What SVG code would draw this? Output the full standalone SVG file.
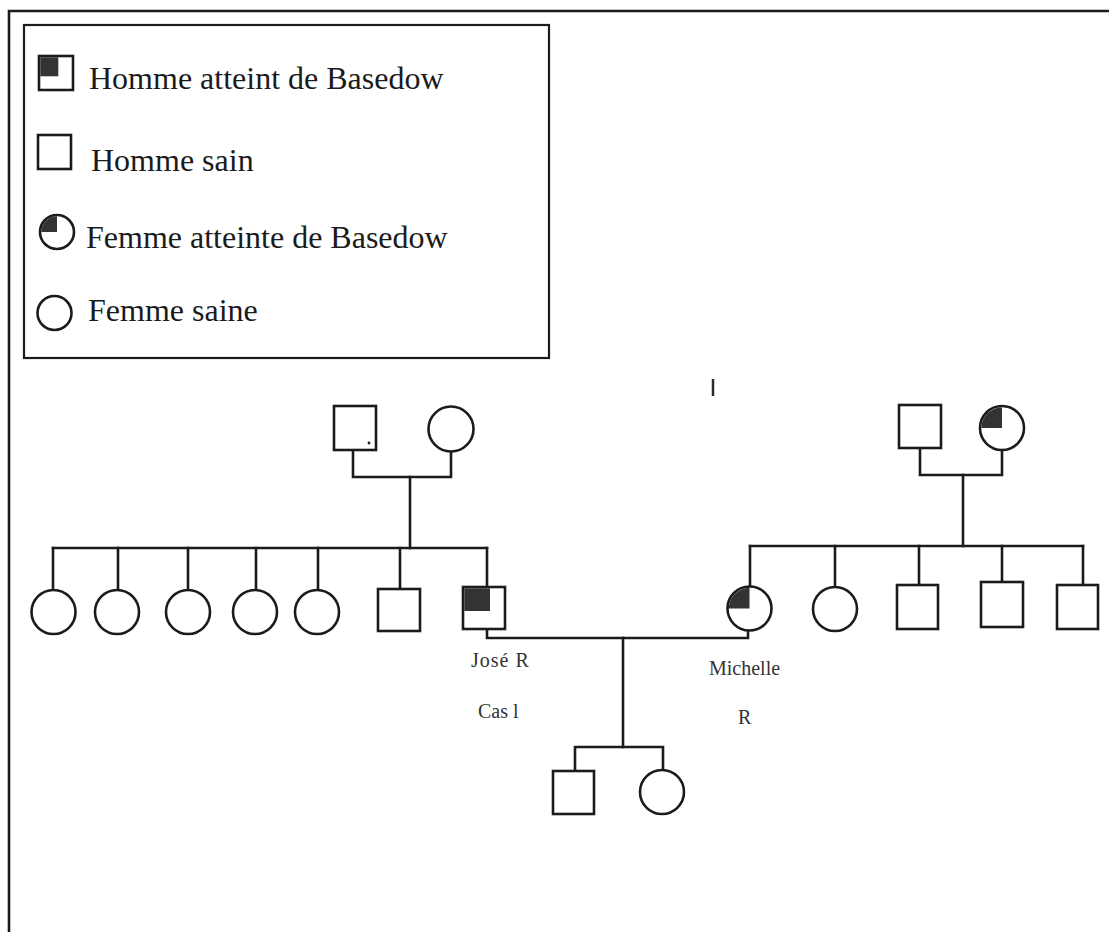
<svg xmlns="http://www.w3.org/2000/svg" width="1109" height="932" viewBox="0 0 1109 932">
  <style>
    .ln { fill: none; stroke: #1b1b1b; stroke-width: 2.6; stroke-linecap: square; }
    .sym { fill: #ffffff; stroke: #1b1b1b; stroke-width: 2.6; }
    .aff { fill: #333333; stroke: none; }
    .legend { font-family: "Liberation Serif", "Times New Roman", serif; font-size: 32px; fill: #1b1b1b; }
    .lbl { font-family: "Liberation Serif", "Times New Roman", serif; font-size: 20px; fill: #333333; }
  </style>

  <rect width="1109" height="932" fill="#ffffff"/>

  <!-- page frame (top and left edges) -->
  <path class="ln" d="M9,932 V11 H1109" stroke-width="2"/>

  <!-- legend -->
  <g id="legend">
    <rect x="24" y="25" width="525" height="333" fill="none" stroke="#1b1b1b" stroke-width="2.2"/>
    <g id="legend-male-affected">
      <rect class="sym" x="39" y="56" width="34" height="34"/>
      <rect class="aff" x="40.3" y="57.3" width="18" height="19"/>
      <text class="legend" x="89" y="89">Homme atteint de Basedow</text>
    </g>
    <g id="legend-male-healthy">
      <rect class="sym" x="38" y="135" width="33" height="34"/>
      <text class="legend" x="91" y="171">Homme sain</text>
    </g>
    <g id="legend-female-affected">
      <circle class="sym" cx="57" cy="232" r="17"/>
      <path class="aff" d="M57,232 H41.3 A15.7,15.7 0 0 1 57,216.3 Z"/>
      <text class="legend" x="86" y="248">Femme atteinte de Basedow</text>
    </g>
    <g id="legend-female-healthy">
      <circle class="sym" cx="54.5" cy="313" r="17"/>
      <text class="legend" x="88" y="321">Femme saine</text>
    </g>
  </g>

  <!-- connectors -->
  <g id="connectors" class="ln">
    <!-- left grandparents -->
    <path d="M353,450 V477 H451 V452"/>
    <path d="M410,477 V548"/>
    <path d="M53,548 H487"/>
    <path d="M53,548 V590 M118,548 V590 M188,548 V590 M256,548 V590 M318,548 V590 M400,548 V589 M487,548 V587"/>
    <!-- right grandparents -->
    <path d="M920,448 V475 H1002 V450"/>
    <path d="M963,475 V546"/>
    <path d="M750,546 H1083"/>
    <path d="M750,546 V587 M835,546 V587 M919,546 V585 M1002,546 V582 M1083,546 V585"/>
    <!-- couple José / Michelle -->
    <path d="M487,629 V638 H748 V630"/>
    <path d="M623,638 V747"/>
    <path d="M575,747 H663 V770 M575,747 V771"/>
  </g>

  <!-- generation I, left -->
  <g id="gp-left-father">
    <rect class="sym" x="334" y="406" width="42" height="44"/>
    <circle cx="369" cy="443" r="1.4" fill="#1b1b1b"/>
  </g>
  <g id="gp-left-mother">
    <circle class="sym" cx="451" cy="429" r="22.5"/>
  </g>

  <!-- generation I, right -->
  <g id="gp-right-father">
    <rect class="sym" x="899" y="405" width="42" height="43"/>
  </g>
  <g id="gp-right-mother">
    <circle class="sym" cx="1002" cy="428" r="22"/>
    <path class="aff" d="M1002,428 H981.3 A20.7,20.7 0 0 1 1002,407.3 Z"/>
  </g>

  <!-- generation II, left sibship -->
  <g id="sister-1"><circle class="sym" cx="53.5" cy="612" r="22"/></g>
  <g id="sister-2"><circle class="sym" cx="117" cy="612" r="22"/></g>
  <g id="sister-3"><circle class="sym" cx="188" cy="612" r="22"/></g>
  <g id="sister-4"><circle class="sym" cx="255" cy="612" r="22"/></g>
  <g id="sister-5"><circle class="sym" cx="317" cy="612" r="22"/></g>
  <g id="brother-1"><rect class="sym" x="378" y="589" width="42" height="42"/></g>
  <g id="jose">
    <rect class="sym" x="463" y="587" width="42" height="42"/>
    <rect class="aff" x="464.3" y="588.3" width="25.7" height="22.7"/>
    <text class="lbl" x="471" y="667" letter-spacing="1">José R</text>
    <text class="lbl" x="478" y="718">Cas l</text>
  </g>

  <!-- generation II, right sibship -->
  <g id="michelle">
    <circle class="sym" cx="749.5" cy="608.5" r="22"/>
    <path class="aff" d="M749.5,608.5 H728.8 A20.7,20.7 0 0 1 749.5,587.8 Z"/>
    <text class="lbl" x="709" y="675">Michelle</text>
    <text class="lbl" x="738" y="724" font-size="13">R</text>
  </g>
  <g id="sister-6"><circle class="sym" cx="835" cy="609" r="22"/></g>
  <g id="brother-2"><rect class="sym" x="897" y="585" width="41" height="44"/></g>
  <g id="brother-3"><rect class="sym" x="981" y="582" width="42" height="45"/></g>
  <g id="brother-4"><rect class="sym" x="1057" y="585" width="41" height="44"/></g>

  <!-- generation III -->
  <g id="son"><rect class="sym" x="553" y="771" width="41" height="43"/></g>
  <g id="daughter"><circle class="sym" cx="662" cy="792" r="22"/></g>

  <!-- short stroke above the tree -->
  <path d="M713,379 V396" stroke="#2a2a2a" stroke-width="2.5"/>
</svg>
